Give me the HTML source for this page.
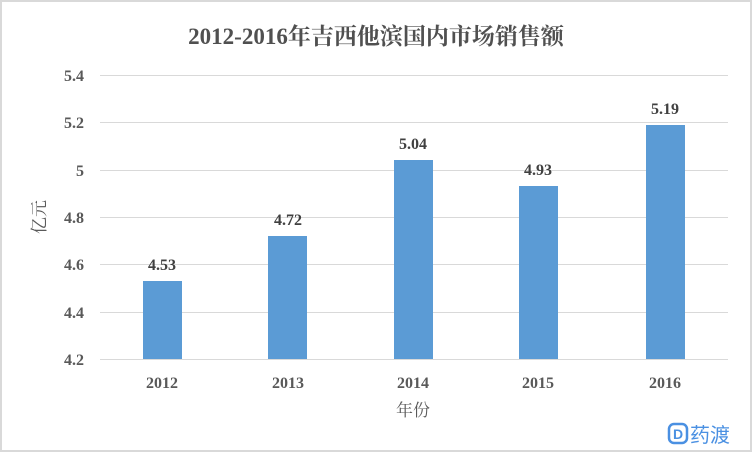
<!DOCTYPE html>
<html><head><meta charset="utf-8"><style>
html,body{margin:0;padding:0;background:#fff;}
svg{display:block;}
</style></head><body>
<svg width="752" height="452" viewBox="0 0 752 452" xmlns="http://www.w3.org/2000/svg">
<rect x="1" y="1" width="750" height="450" fill="#fff" stroke="#d9d9d9" stroke-width="2"/>
<text x="376" y="44" text-anchor="middle" font-family="Liberation Serif, Noto Serif CJK SC, serif" font-weight="bold" font-size="23" fill="#505050">2012-2016年吉西他滨国内市场销售额</text>
<g stroke="#d9d9d9" stroke-width="1">
<line x1="100" x2="728" y1="75.5" y2="75.5"/>
<line x1="100" x2="728" y1="122.5" y2="122.5"/>
<line x1="100" x2="728" y1="170.5" y2="170.5"/>
<line x1="100" x2="728" y1="217.5" y2="217.5"/>
<line x1="100" x2="728" y1="264.5" y2="264.5"/>
<line x1="100" x2="728" y1="312.5" y2="312.5"/>
<line x1="100" x2="728" y1="359.5" y2="359.5"/>
</g>
<g font-family="Liberation Serif, serif" font-weight="bold" font-size="16" fill="#595959" text-anchor="end">
<text x="84" y="81">5.4</text><text x="84" y="128">5.2</text><text x="84" y="176">5</text>
<text x="84" y="223">4.8</text><text x="84" y="270">4.6</text><text x="84" y="318">4.4</text><text x="84" y="365">4.2</text>
</g>
<g fill="#5b9bd5">
<rect x="143" y="281" width="39" height="78"/>
<rect x="268" y="236" width="39" height="123"/>
<rect x="394" y="160" width="39" height="199"/>
<rect x="519" y="186" width="39" height="173"/>
<rect x="646" y="125" width="39" height="234"/>
</g>
<g font-family="Liberation Serif, serif" font-weight="bold" font-size="16" fill="#404040" text-anchor="middle">
<text x="162" y="270">4.53</text><text x="288" y="225">4.72</text><text x="413" y="149">5.04</text>
<text x="538" y="175">4.93</text><text x="665" y="114">5.19</text>
</g>
<g font-family="Liberation Serif, serif" font-weight="bold" font-size="16" fill="#595959" text-anchor="middle">
<text x="162" y="388">2012</text><text x="288" y="388">2013</text><text x="413" y="388">2014</text>
<text x="538" y="388">2015</text><text x="665" y="388">2016</text>
</g>
<text x="413" y="416" text-anchor="middle" font-family="Noto Serif CJK SC, serif" font-size="17" fill="#595959">年份</text>
<text transform="translate(45,217) rotate(-90)" text-anchor="middle" font-family="Noto Serif CJK SC, serif" font-size="17" fill="#595959">亿元</text>
<g>
<rect x="669" y="424" width="18" height="19" rx="5" fill="none" stroke="#4a90e2" stroke-width="2.5"/>
<text x="678" y="439" text-anchor="middle" font-family="Liberation Sans, sans-serif" font-weight="bold" font-size="14" fill="#4a90e2">D</text>
<text x="690" y="442" font-family="Liberation Sans, Noto Sans CJK SC, sans-serif" font-size="20" fill="#4a90e2">药渡</text>
</g>
</svg>
</body></html>
